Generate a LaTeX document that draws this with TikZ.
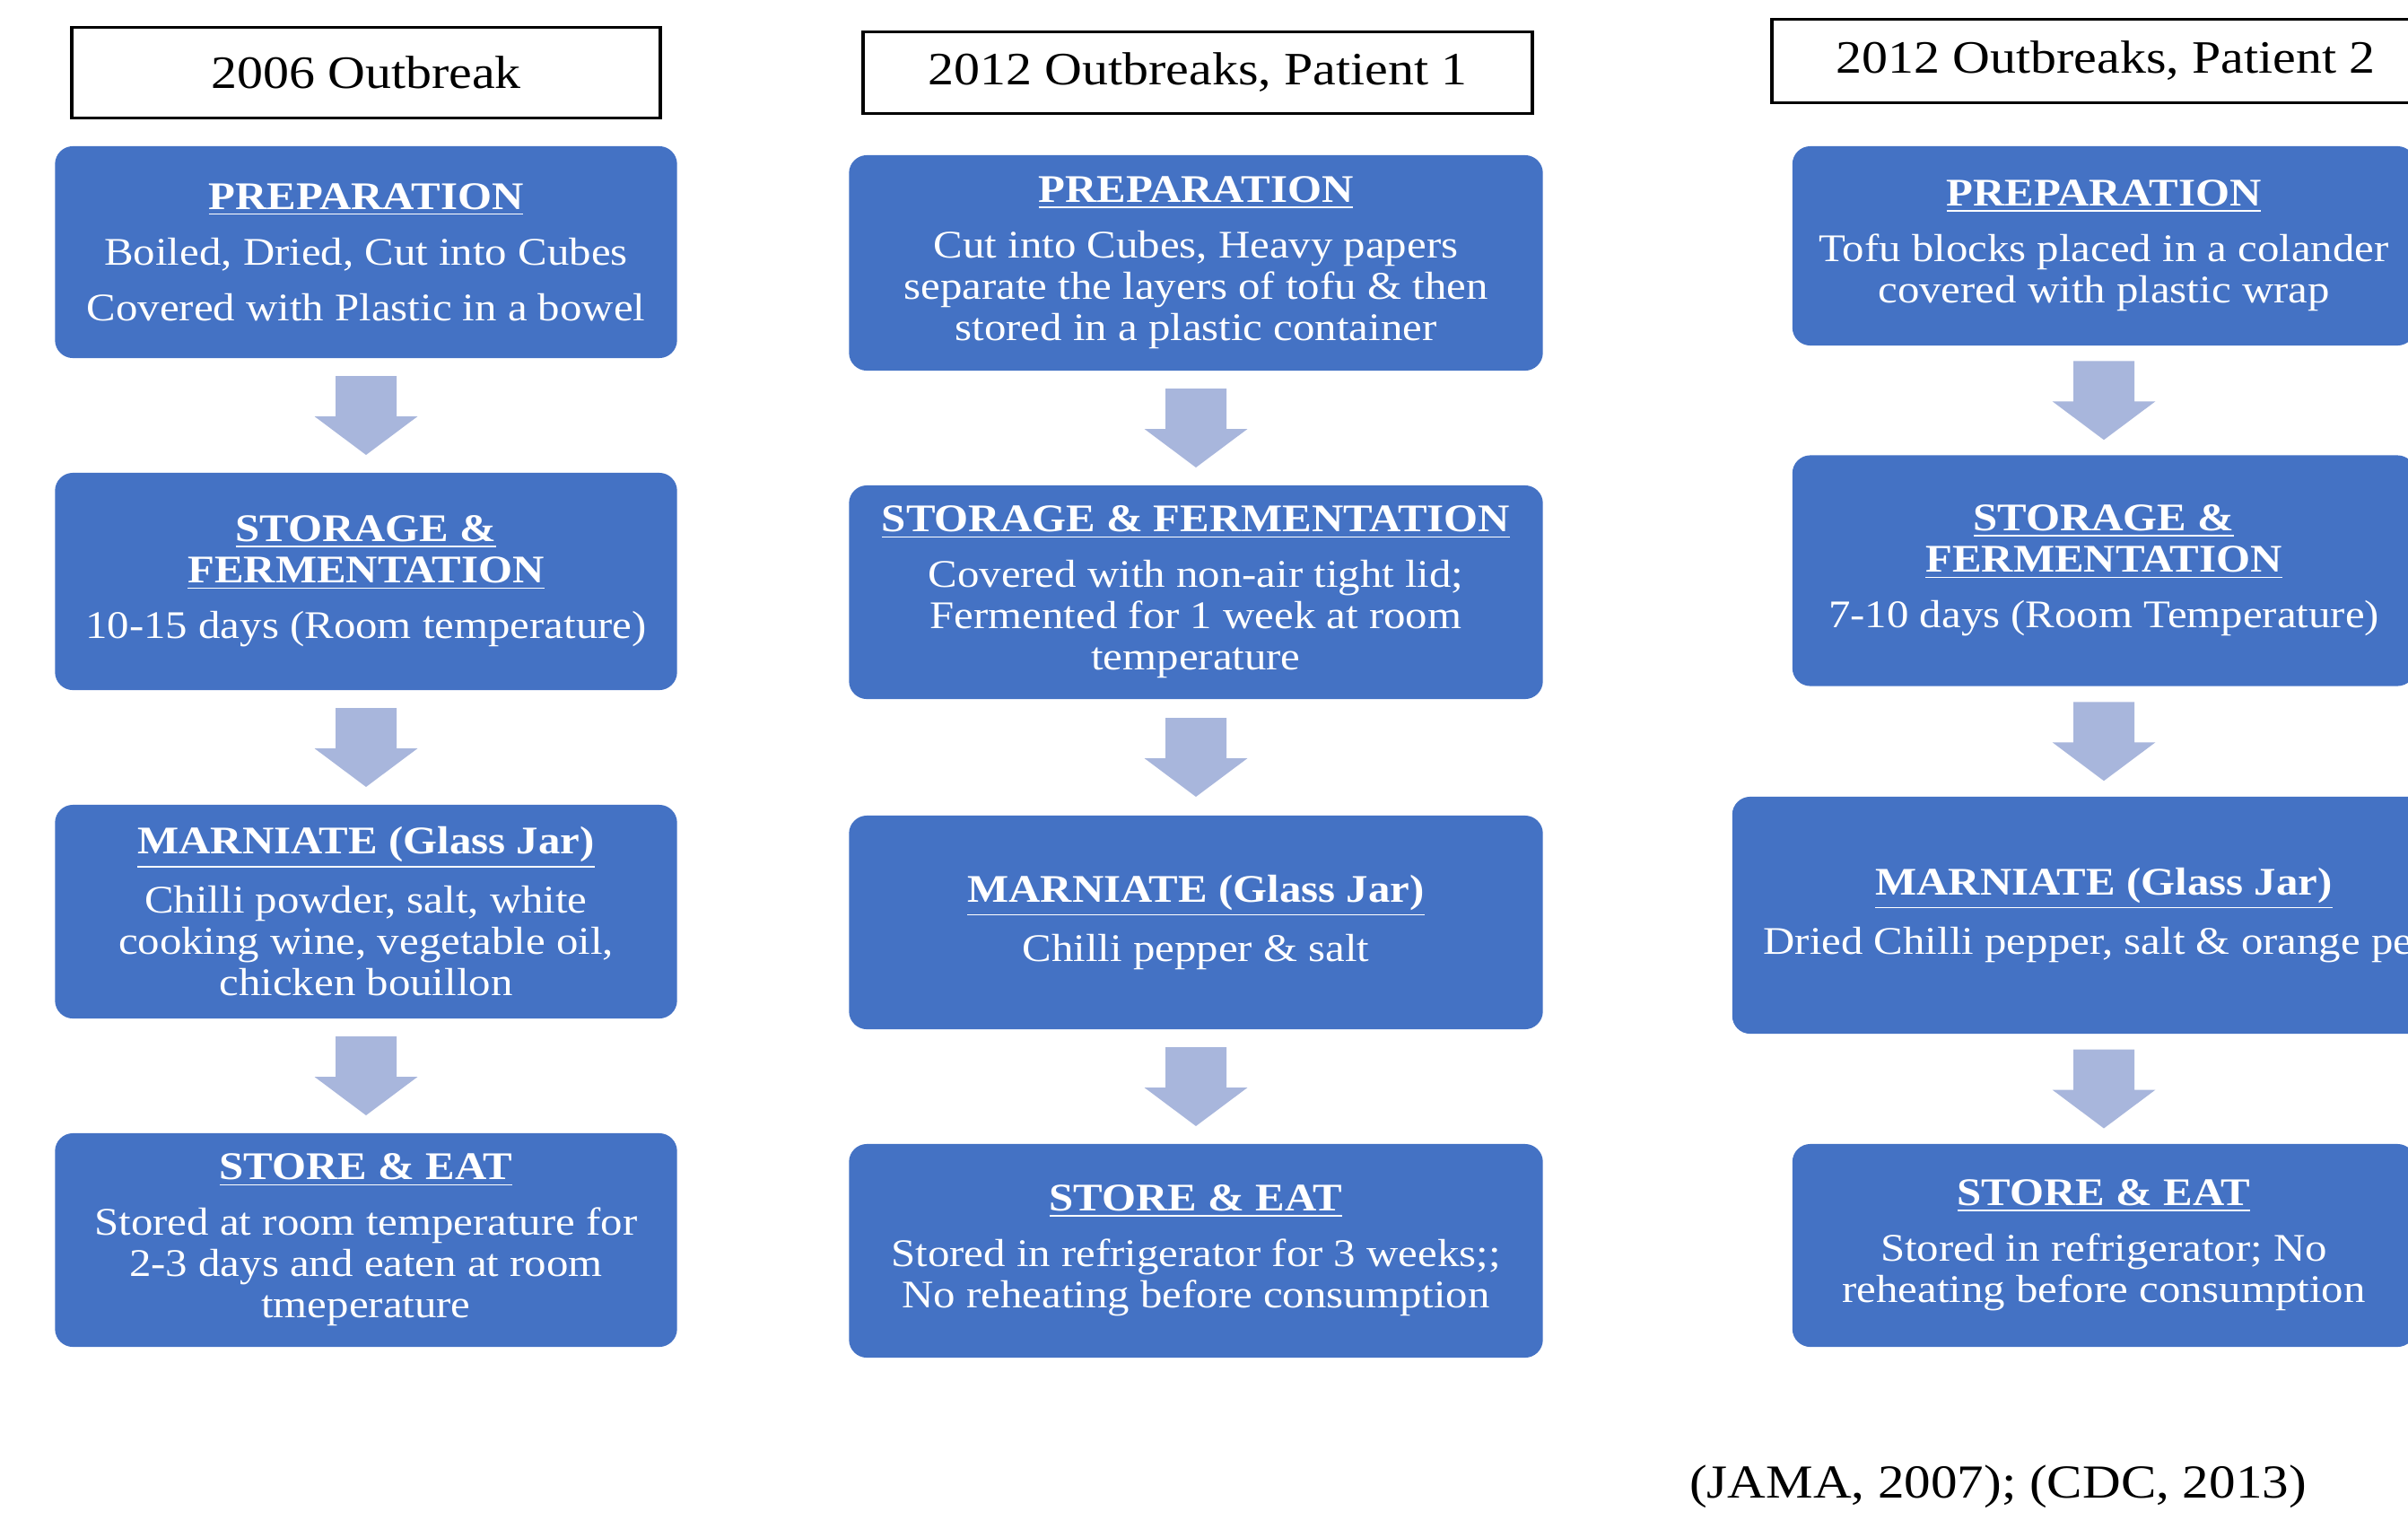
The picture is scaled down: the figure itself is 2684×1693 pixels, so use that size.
\documentclass[tikz,border=0pt]{standalone}
\usepackage{fontspec}
\setmainfont[FakeStretch=1.12]{Liberation Serif}
\usepackage{tikz}
\usetikzlibrary{positioning}
\usetikzlibrary{calc}
\usetikzlibrary{math}

\definecolor{boxblue}{RGB}{68,114,196}
\definecolor{arrowblue}{RGB}{168,182,220}

\newcommand{\ttl}[1]{\textbf{\underline{#1}}}

% fat arrow half way between two boxes
\newcommand{\flowarrow}[2]{%
  \coordinate (M) at ($(#1.south)!0.5!(#2.north)$);
  \fill[arrowblue] ($(M)+(-34,-44)$) -- ++(68,0) -- ++(0,45) -- ++(23.5,0)
    -- ($(M)+(0,44)$) -- ($(M)+(-57.5,1)$) -- ++(23.5,0) -- cycle;
}

\tikzset{
  stepbox/.style={fill=boxblue, text=white, rounded corners=2mm, align=center,
    inner sep=4pt, font=\fontsize{12.4}{13.1}\selectfont},
  headbox/.style={draw=black, line width=1.1pt, fill=white, inner sep=2pt,
    font=\fontsize{14.7}{17}\selectfont},
}

\begin{document}
\begin{tikzpicture}[x=0.01cm, y=-0.01cm]
      \tikzmath{
        \xa = 408;
        \xb = 1333;
        \xc = 2345;
      }

      \useasboundingbox (0,0) rectangle (2684,1693);
      \clip (0,0) rectangle (2684,1693);

      % headings
      \node[headbox, minimum width=6.56cm, minimum height=1.01cm] (H1) at (\xa,81) {2006 Outbreak};
      \node[headbox, minimum width=7.46cm, minimum height=0.91cm] (H2) at (\xb+2,81) {2012 Outbreaks, Patient 1};
      \node[headbox, minimum width=7.44cm, minimum height=0.93cm] (H3) at (\xc+2,68) {2012 Outbreaks, Patient 2};

      % 2006
      \node[stepbox, minimum width=6.93cm, minimum height=2.36cm] (P1) at (\xa,281)
        {\ttl{PREPARATION}\\[4.5pt] Boiled, Dried, Cut into Cubes\\[4.5pt] Covered with Plastic in a bowel};
      \node[stepbox, minimum width=6.93cm, minimum height=2.42cm] (S1) at (\xa,648)
        {\ttl{STORAGE \&}\\ \ttl{FERMENTATION}\\[4.5pt] 10-15 days (Room temperature)};
      \node[stepbox, minimum width=6.93cm, minimum height=2.38cm] (M1) at (\xa,1016)
        {\ttl{MARNIATE (Glass Jar)}\\[4.5pt] Chilli powder, salt, white\\ cooking wine, vegetable oil,\\ chicken bouillon};
      \node[stepbox, minimum width=6.93cm, minimum height=2.38cm] (E1) at (\xa,1382)
        {\ttl{STORE \& EAT}\\[4.5pt] Stored at room temperature for\\ 2-3 days and eaten at room\\ tmeperature};

      % 2012, patient 1
      \node[stepbox, minimum width=7.73cm, minimum height=2.40cm] (P2) at (\xb,293)
        {\ttl{PREPARATION}\\[4.5pt] Cut into Cubes, Heavy papers\\ separate the layers of tofu \& then\\ stored in a plastic container};
      \node[stepbox, minimum width=7.73cm, minimum height=2.38cm] (S2) at (\xb,660)
        {\ttl{STORAGE \& FERMENTATION}\\[4.5pt] Covered with non-air tight lid;\\ Fermented for 1 week at room\\ temperature};
      \node[stepbox, minimum width=7.73cm, minimum height=2.38cm] (M2) at (\xb,1028)
        {\ttl{MARNIATE (Glass Jar)}\\[4.5pt] Chilli pepper \& salt};
      \node[stepbox, minimum width=7.73cm, minimum height=2.38cm] (E2) at (\xb,1394)
        {\ttl{STORE \& EAT}\\[4.5pt] Stored in refrigerator for 3 weeks;;\\ No reheating before consumption};

      % 2012, patient 2
      \node[stepbox, minimum width=6.94cm, minimum height=2.22cm] (P3) at (\xc,274)
        {\ttl{PREPARATION}\\[4.5pt] Tofu blocks placed in a colander\\ covered with plastic wrap};
      \node[stepbox, minimum width=6.94cm, minimum height=2.57cm] (S3) at (\xc,636)
        {\ttl{STORAGE \&}\\ \ttl{FERMENTATION}\\[4.5pt] 7-10 days (Room Temperature)};
      \node[stepbox, minimum width=8.28cm, minimum height=2.64cm] (M3) at (\xc,1020)
        {\ttl{MARNIATE (Glass Jar)}\\[4.5pt] Dried Chilli pepper, salt \& orange peel};
      \node[stepbox, minimum width=6.94cm, minimum height=2.26cm] (E3) at (\xc,1388)
        {\ttl{STORE \& EAT}\\[4.5pt] Stored in refrigerator; No\\ reheating before consumption};

      \foreach \c in {1,2,3} {
        \flowarrow{P\c}{S\c}
        \flowarrow{S\c}{M\c}
        \flowarrow{M\c}{E\c}
      }

      \node[font=\fontsize{15}{18}\selectfont] (ref) at (2227,1657) {(JAMA, 2007); (CDC, 2013)};

    \end{tikzpicture}
\end{document}
